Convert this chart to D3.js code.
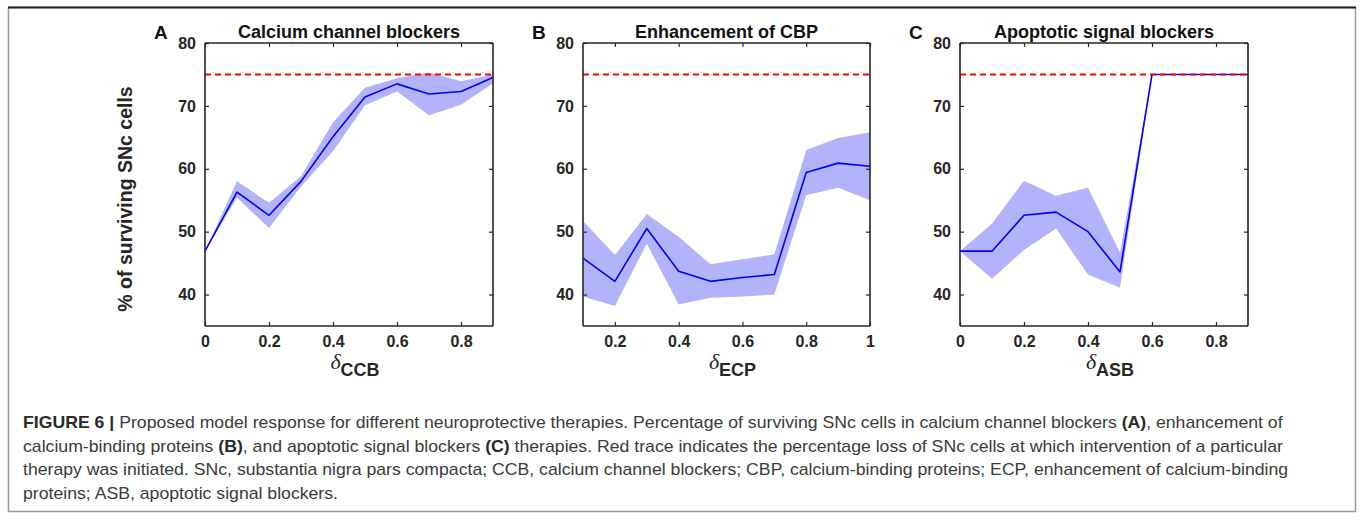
<!DOCTYPE html>
<html>
<head>
<meta charset="utf-8">
<script src="https://cdn.jsdelivr.net/npm/d3@7"></script>
<style>
  body { margin: 0; background: #fff; }
  svg { display: block; }
</style>
</head>
<body>
<div id="fig"></div>
<script>
var w = 1360, h = 519;

// x values per panel
var deltaCCB = [0, 0.1, 0.2, 0.3, 0.4, 0.5, 0.6, 0.7, 0.8, 0.9];
var deltaECP = [0.1, 0.2, 0.3, 0.4, 0.5, 0.6, 0.7, 0.8, 0.9, 1.0];
var deltaASB = [0, 0.1, 0.2, 0.3, 0.4, 0.5, 0.6, 0.7, 0.8, 0.9];

// % surviving SNc cells (mean, upper and lower band)
var meanCCB  = [46.9, 56.3, 52.6, 58.0, 65.1, 71.4, 73.5, 71.9, 72.3, 74.5];
var upperCCB = [46.9, 58.0, 54.6, 58.8, 67.4, 72.9, 74.4, 75.3, 73.9, 75.0];
var lowerCCB = [46.9, 55.4, 50.6, 57.2, 62.8, 70.1, 72.3, 68.5, 70.2, 73.6];

var meanECP  = [45.8, 42.1, 50.5, 43.7, 42.1, 42.7, 43.2, 59.4, 60.9, 60.4];
var upperECP = [51.7, 46.3, 52.8, 49.2, 44.8, 45.6, 46.4, 63.0, 64.9, 65.8];
var lowerECP = [39.7, 38.2, 48.1, 38.4, 39.5, 39.7, 40.0, 55.8, 57.0, 55.0];

var meanASB  = [46.9, 46.9, 52.6, 53.1, 50.0, 43.6, 75.0, 75.0, 75.0, 75.0];
var upperASB = [46.9, 51.3, 58.1, 55.7, 57.0, 46.7, 75.0, 75.0, 75.0, 75.0];
var lowerASB = [46.9, 42.5, 47.1, 50.5, 43.2, 41.1, 75.0, 75.0, 75.0, 75.0];

var threshold = 75; // red trace: loss at which therapy is initiated
var yTicks = [40, 50, 60, 70, 80];
var xTicksA = [0, 0.2, 0.4, 0.6, 0.8];
var xTicksB = [0.2, 0.4, 0.6, 0.8, 1];

var panels = [
  {letter: "A", title: "Calcium channel blockers", sub: "CCB", left: 205, right: 493,
   domain: [0, 0.9], ticks: xTicksA, x: deltaCCB, mean: meanCCB, upper: upperCCB, lower: lowerCCB},
  {letter: "B", title: "Enhancement of CBP", sub: "ECP", left: 583, right: 870,
   domain: [0.1, 1], ticks: xTicksB, x: deltaECP, mean: meanECP, upper: upperECP, lower: lowerECP},
  {letter: "C", title: "Apoptotic signal blockers", sub: "ASB", left: 960, right: 1248,
   domain: [0, 0.9], ticks: xTicksA, x: deltaASB, mean: meanASB, upper: upperASB, lower: lowerASB}
];

var plotTop = 43, plotBottom = 326;
var axisColor = "#262626";
var sans = "'Liberation Sans', Arial, Helvetica, sans-serif";

var svg = d3.select("#fig").append("svg")
    .attr("width", w)
    .attr("height", h);

// outer frame of the figure
svg.append("rect")
    .attr("x", 8.5).attr("y", 7.5)
    .attr("width", 1347).attr("height", 504)
    .attr("fill", "none")
    .attr("stroke", "#9a9a9a")
    .attr("stroke-width", 1.5);
svg.append("line")
    .attr("x1", 8).attr("x2", 1356)
    .attr("y1", 7.5).attr("y2", 7.5)
    .attr("stroke", "#222")
    .attr("stroke-width", 2);

var y = d3.scaleLinear().domain([35, 80]).range([plotBottom, plotTop]);
var fmt = function(d) { return String(+d.toFixed(1)); };

panels.forEach(function(p) {
  var x = d3.scaleLinear().domain(p.domain).range([p.left, p.right]);
  var g = svg.append("g");
  var pts = p.x.map(function(v, i) {
    return {x: v, m: p.mean[i], hi: p.upper[i], lo: p.lower[i]};
  });

  var area = d3.area()
      .x(function(d) { return x(d.x); })
      .y0(function(d) { return y(d.lo); })
      .y1(function(d) { return y(d.hi); });
  var line = d3.line()
      .x(function(d) { return x(d.x); })
      .y(function(d) { return y(d.m); });

  g.append("path")
      .datum(pts)
      .attr("fill", "#b3b3fb")
      .attr("stroke", "none")
      .attr("d", area);

  g.append("path")
      .datum(pts)
      .attr("fill", "none")
      .attr("stroke", "#0000ff")
      .attr("stroke-width", 1.6)
      .attr("stroke-linejoin", "round")
      .attr("d", line);

  g.append("line")
      .attr("x1", x(p.domain[0])).attr("x2", x(p.domain[1]))
      .attr("y1", y(threshold)).attr("y2", y(threshold))
      .attr("stroke", "#ff0000")
      .attr("stroke-width", 2)
      .attr("stroke-dasharray", "6,4");

  // axes, matlab style ticks pointing inwards
  var ax = g.append("g").attr("transform", "translate(0," + plotBottom + ")")
      .call(d3.axisBottom(x).tickValues(p.ticks).tickSize(-4).tickPadding(10).tickFormat(fmt));
  var axTop = g.append("g").attr("transform", "translate(0," + plotTop + ")")
      .call(d3.axisTop(x).tickValues(p.ticks).tickSize(-4).tickFormat(""));
  var ay = g.append("g").attr("transform", "translate(" + p.left + ",0)")
      .call(d3.axisLeft(y).tickValues(yTicks).tickSize(-4).tickPadding(9).tickFormat(d3.format("d")));
  var ayR = g.append("g").attr("transform", "translate(" + p.right + ",0)")
      .call(d3.axisRight(y).tickValues(yTicks).tickSize(-4).tickFormat(""));

  [ax, axTop, ay, ayR].forEach(function(a) {
    a.select(".domain").attr("stroke", axisColor).attr("stroke-width", 1.6)
      .attr("d", a === ax || a === axTop
        ? "M" + p.left + ",0H" + p.right
        : "M0," + plotTop + "V" + plotBottom);
    a.selectAll(".tick line").attr("stroke", axisColor).attr("stroke-width", 1.2);
    a.selectAll(".tick text")
      .attr("fill", axisColor)
      .style("font-family", sans)
      .style("font-weight", "bold")
      .style("font-size", "16px");
  });

  // panel letter and title
  g.append("text")
      .attr("x", p.left - 51).attr("y", 39)
      .attr("fill", "#111")
      .style("font-family", sans).style("font-weight", "bold").style("font-size", "19px")
      .text(p.letter);
  g.append("text")
      .attr("x", (p.left + p.right) / 2).attr("y", 38)
      .attr("text-anchor", "middle")
      .attr("fill", "#111")
      .style("font-family", sans).style("font-weight", "bold").style("font-size", "18px")
      .text(p.title);

  // x-axis label: delta with subscript
  var xl = g.append("text")
      .attr("x", (p.left + p.right) / 2 + 6).attr("y", 369)
      .attr("text-anchor", "middle")
      .attr("fill", axisColor);
  xl.append("tspan")
      .style("font-family", "'Liberation Serif', 'DejaVu Serif', serif")
      .style("font-style", "italic")
      .style("font-size", "22px")
      .text("δ");
  xl.append("tspan")
      .attr("dy", 7)
      .style("font-family", sans).style("font-weight", "bold").style("font-size", "18px")
      .text(p.sub);
});

// y-axis label
svg.append("text")
    .attr("transform", "translate(132,199) rotate(-90)")
    .attr("text-anchor", "middle")
    .attr("fill", axisColor)
    .style("font-family", sans).style("font-weight", "bold").style("font-size", "19.5px")
    .text("% of surviving SNc cells");

// caption
var captionLines = [
  [["FIGURE 6 | ", true], ["Proposed model response for different neuroprotective therapies. Percentage of surviving SNc cells in calcium channel blockers ", false], ["(A)", true], [", enhancement of", false]],
  [["calcium-binding proteins ", false], ["(B)", true], [", and apoptotic signal blockers ", false], ["(C)", true], [" therapies. Red trace indicates the percentage loss of SNc cells at which intervention of a particular", false]],
  [["therapy was initiated. SNc, substantia nigra pars compacta; CCB, calcium channel blockers; CBP, calcium-binding proteins; ECP, enhancement of calcium-binding", false]],
  [["proteins; ASB, apoptotic signal blockers.", false]]
];
var captionBase = [428, 451.5, 475, 498.5];
var captionEnd = [1283, 1272, 1300, 386];
var captionLeft = 23;

var captionGroups = captionLines.map(function(parts, i) {
  var lg = svg.append("g");
  var t = lg.append("text")
      .attr("x", 0).attr("y", 0)
      .attr("fill", "#3a3a3a")
      .style("font-family", sans)
      .style("font-size", "16px");
  parts.forEach(function(pt) {
    t.append("tspan")
      .style("font-weight", pt[1] ? "bold" : "normal")
      .attr("fill", pt[1] ? "#2a2a2a" : "#3a3a3a")
      .text(pt[0]);
  });
  return {g: lg, natural: t.node().getComputedTextLength()};
});
// one horizontal squeeze for all lines (condensed caption face)
var sx = d3.mean([0, 1, 2], function(i) {
  return (captionEnd[i] - captionLeft) / captionGroups[i].natural;
});
captionGroups.forEach(function(c, i) {
  c.g.attr("transform", "translate(" + captionLeft + "," + captionBase[i] + ") scale(" + sx + ",1)");
});
</script>
</body>
</html>
